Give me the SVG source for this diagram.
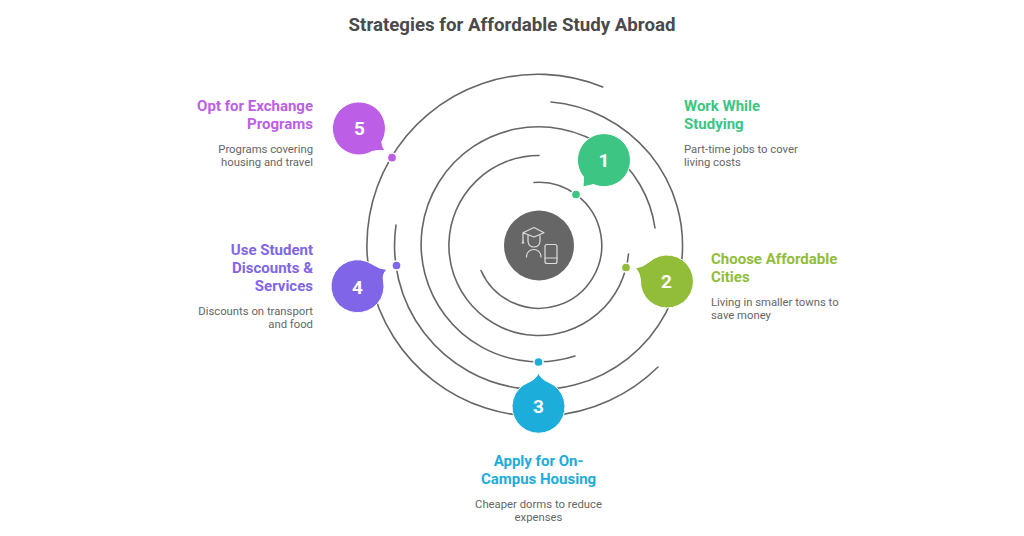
<svg xmlns="http://www.w3.org/2000/svg" width="1024" height="536" viewBox="0 0 1024 536">
<style>
text{font-family:Roboto,"Liberation Sans",sans-serif}
.arc{fill:none;stroke:#666;stroke-width:1.6;stroke-linecap:round}
.t{font-size:18.7px;font-weight:700;fill:#4a4a4a;text-anchor:middle}
.h{font-size:15px;font-weight:700}
.d{font-size:11.3px;fill:#666}
.n{font-size:19px;font-weight:700;fill:#fff;text-anchor:middle}
.e{text-anchor:end}
.m{text-anchor:middle}
.b{stroke:#fff;stroke-width:1}
.dot{stroke:#fff;stroke-width:1.5}
.ic{fill:none;stroke:#ddd;stroke-width:1.2;stroke-linejoin:round;stroke-linecap:round}
</style>
<rect width="1024" height="536" fill="#fff"/>
<text class="t" x="512" y="31">Strategies for Affordable Study Abroad</text>
<g id="connectors">
<path class="arc" d="M534 182.500A63 63 0 1 1 481 270.500"/>
<path class="arc" d="M539 155.500A90 90 0 1 0 628.500 254"/>
<path class="arc" d="M655 228A117.500 117.500 0 1 0 575 356"/>
<path class="arc" d="M396 225A144 144 0 1 0 551 102"/>
<path class="arc" d="M602.700 87A171 171 0 1 0 658 367"/>
</g>
<g id="center"><circle cx="539" cy="245.500" r="35" fill="#666"/>
<path class="ic" d="M523 232.700L534 227.500L544 232.700L534 237ZM528 235.500V241C528 249 540 249 540 241V235.500M523 233V241M526.500 257C526.500 247 541 247 541 257"/><path d="M521.500 243.500L523 240L524.500 243.500Z" fill="#ddd"/><rect class="ic" x="545" y="244.500" width="12" height="19" rx="2"/><path class="ic" d="M545 258H557"/></g>
<g id="node1"><path class="b" fill="#3DC583" d="M583 187L593.500 184.500A26.500 26.500 0 1 0 583.500 177Z"/><text class="n" x="604" y="166.500">1</text><circle class="dot" cx="576" cy="194.500" r="4.600" fill="#3DC583"/>
<text class="h" fill="#3DC583" x="684" y="111">Work While</text><text class="h" fill="#3DC583" x="684" y="129">Studying</text><text class="d" x="684" y="153">Part-time jobs to cover</text><text class="d" x="684" y="166">living costs</text></g>
<g id="node2"><path class="b" fill="#92BD39" d="M635.500 268Q643 267 649 262A26.500 26.500 0 1 1 640.500 280Q640 273 635.500 268Z"/><text class="n" x="666.500" y="287.500">2</text><circle class="dot" cx="626" cy="267.500" r="4.600" fill="#92BD39"/>
<text class="h" fill="#92BD39" x="711" y="264">Choose Affordable</text><text class="h" fill="#92BD39" x="711" y="282">Cities</text><text class="d" x="711" y="306">Living in smaller towns to</text><text class="d" x="711" y="319">save money</text></g>
<g id="node3"><path class="b" fill="#1CADDA" d="M538.500 373Q541 379 548 382A26.500 26.500 0 1 1 529 382Q536 379 538.500 373Z"/><text class="n" x="538.500" y="413">3</text><circle class="dot" cx="538.500" cy="362" r="4.600" fill="#1CADDA"/>
<text class="h m" fill="#1CADDA" x="538.500" y="466">Apply for On-</text><text class="h m" fill="#1CADDA" x="538.500" y="484">Campus Housing</text><text class="d m" x="538.500" y="508">Cheaper dorms to reduce</text><text class="d m" x="538.500" y="521">expenses</text></g>
<g id="node4"><path class="b" fill="#8165E8" d="M387 269.500Q382 274 383.500 281A26.500 26.500 0 1 1 372 264Q379 269 387 269.500Z"/><text class="n" x="357.500" y="293.500">4</text><circle class="dot" cx="396.500" cy="265.500" r="4.600" fill="#8165E8"/>
<text class="h e" fill="#8165E8" x="313" y="255">Use Student</text><text class="h e" fill="#8165E8" x="313" y="273">Discounts &amp;</text><text class="h e" fill="#8165E8" x="313" y="291">Services</text><text class="d e" x="313" y="315">Discounts on transport</text><text class="d e" x="313" y="328">and food</text></g>
<g id="node5"><path class="b" fill="#BC5FE6" d="M385 150.500Q377 150 372 151.500A26.500 26.500 0 1 1 381.700 142Q382 147 385 150.500Z"/><text class="n" x="359.500" y="135">5</text><circle class="dot" cx="392" cy="157.700" r="4.600" fill="#BC5FE6"/>
<text class="h e" fill="#BC5FE6" x="313" y="111">Opt for Exchange</text><text class="h e" fill="#BC5FE6" x="313" y="129">Programs</text><text class="d e" x="313" y="153">Programs covering</text><text class="d e" x="313" y="166">housing and travel</text></g>
</svg>
